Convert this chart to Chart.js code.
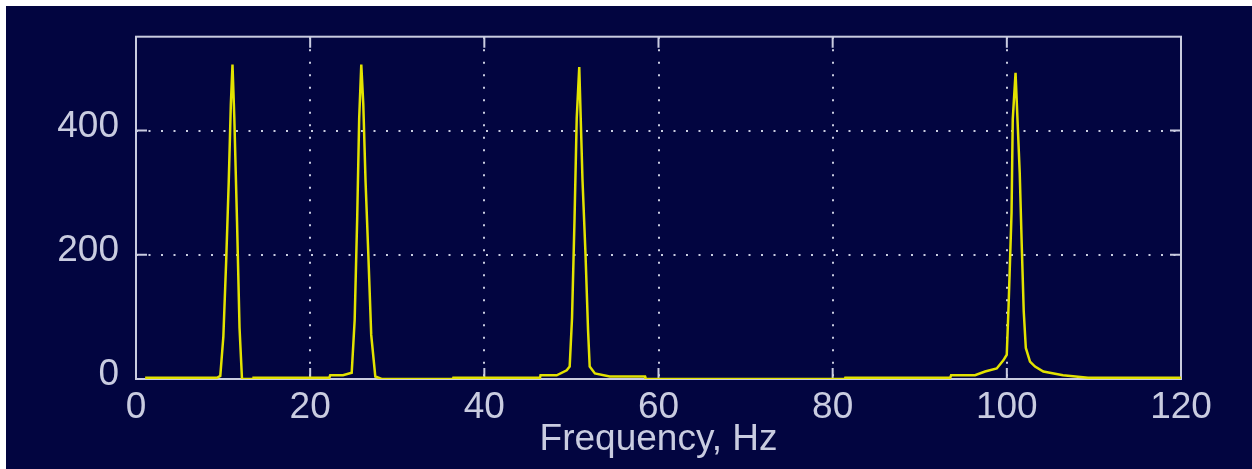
<!DOCTYPE html>
<html>
<head>
<meta charset="utf-8">
<title>Frequency spectrum</title>
<script src="https://cdn.jsdelivr.net/npm/chart.js@4.4.1/dist/chart.umd.min.js"></script>
<style>
  html, body { margin: 0; padding: 0; background: #fff; }
  #wrap { position: absolute; left: 6px; top: 6px; width: 1246px; height: 463px; background: #020540; }
</style>
</head>
<body>
<div id="wrap"><canvas id="spec"></canvas></div>
<script>
// spectrum: frequency (Hz) -> magnitude
const freqHz = [
  1.05, 9.3, 9.68, 10.03, 10.36, 10.65, 10.89, 11.08, 11.29, 11.6, 11.89, 12.17,
  13.47, 13.5, 22.2, 22.3, 23.77, 24.77, 25.11, 25.4, 25.63, 25.87, 26.1, 26.36, 26.68, 27.01, 27.48, 28.2,
  36.4, 36.44, 46.39, 46.45, 48.31, 49.46, 49.8, 50.07, 50.36, 50.61, 50.9, 51.27, 51.62, 51.91, 52.1, 52.7, 54.4, 58.45, 58.5,
  81.4, 81.45, 93.5, 93.6, 96.35, 97.5, 98.84, 99.6, 99.99, 100.2, 100.54, 100.68, 101.0, 101.48, 101.71, 101.94, 102.18,
  102.66, 103.24, 104.19, 106.45, 109.32, 120
];
const magnitude = [
  2, 2, 5, 68, 192, 318, 442, 506, 420, 254, 82, 0,
  0, 2, 2, 6, 6, 10, 95, 259, 420, 506, 442, 318, 200, 71, 4, 0,
  0, 2, 2, 6, 6, 14, 20, 98, 259, 420, 502, 321, 200, 79, 20, 9, 4, 4, 0,
  0, 2, 2, 6, 6, 12, 17, 30, 39, 117, 267, 418, 493, 332, 216, 109, 50,
  28, 20, 12, 6, 2, 2
];
const xTicks = [0, 20, 40, 60, 80, 100, 120];
const yTicks = [0, 200, 400];
const yMax = 551;

const INK = "#c9cce0";
const TRACE = "#e2e200";

Chart.defaults.font.family = "'Liberation Sans', Arial, sans-serif";
Chart.defaults.color = INK;

// axes box and inward tick marks, under the trace
const frame = {
  id: "frame",
  beforeDatasetsDraw(chart) {
    const { ctx, chartArea: a, scales: { x, y } } = chart;
    const tk = 11;
    ctx.save();
    ctx.strokeStyle = INK;
    ctx.lineWidth = 2;
    ctx.strokeRect(a.left, a.top, a.right - a.left, a.bottom - a.top);
    ctx.beginPath();
    xTicks.forEach((v) => {
      const px = x.getPixelForValue(v);
      ctx.moveTo(px, a.bottom); ctx.lineTo(px, a.bottom - tk);
      ctx.moveTo(px, a.top); ctx.lineTo(px, a.top + tk);
    });
    yTicks.forEach((v) => {
      const py = y.getPixelForValue(v);
      ctx.moveTo(a.left, py); ctx.lineTo(a.left + tk, py);
      ctx.moveTo(a.right, py); ctx.lineTo(a.right - tk, py);
    });
    ctx.stroke();
    ctx.restore();
  },
};

new Chart(document.getElementById("spec"), {
  type: "line",
  data: {
    datasets: [{
      data: freqHz.map((f, i) => ({ x: f, y: magnitude[i] })),
      borderColor: TRACE,
      borderWidth: 2.5,
      pointRadius: 0,
      tension: 0,
      fill: false,
    }],
  },
  options: {
    responsive: true,
    maintainAspectRatio: false,
    animation: false,
    layout: { padding: { top: 30.7, right: 71, bottom: 0, left: 0 } },
    plugins: { legend: { display: false }, tooltip: { enabled: false } },
    scales: {
      x: {
        type: "linear",
        min: 0,
        max: 120,
        afterBuildTicks: (s) => { s.ticks = xTicks.map((v) => ({ value: v })); },
        afterFit: (s) => { s.height = 90; s.paddingLeft = 0; s.paddingRight = 0; },
        grid: { color: INK, lineWidth: 2, drawTicks: false },
        border: { display: false, dash: [2, 10.5] },
        ticks: { color: INK, font: { size: 37 }, padding: 7, maxRotation: 0, autoSkip: false },
        title: { display: true, text: "Frequency, Hz", color: INK, font: { size: 37 }, padding: { top: 0, bottom: 7 } },
      },
      y: {
        min: 0,
        max: yMax,
        afterBuildTicks: (s) => { s.ticks = yTicks.map((v) => ({ value: v })); },
        afterFit: (s) => { s.width = 130; s.paddingTop = 0; s.paddingBottom = 0; },
        grid: { color: INK, lineWidth: 2, drawTicks: false },
        border: { display: false, dash: [2, 10.5] },
        ticks: { color: INK, font: { size: 37 }, padding: 17, labelOffset: -4 },
      },
    },
  },
  plugins: [frame],
});
</script>
</body>
</html>
